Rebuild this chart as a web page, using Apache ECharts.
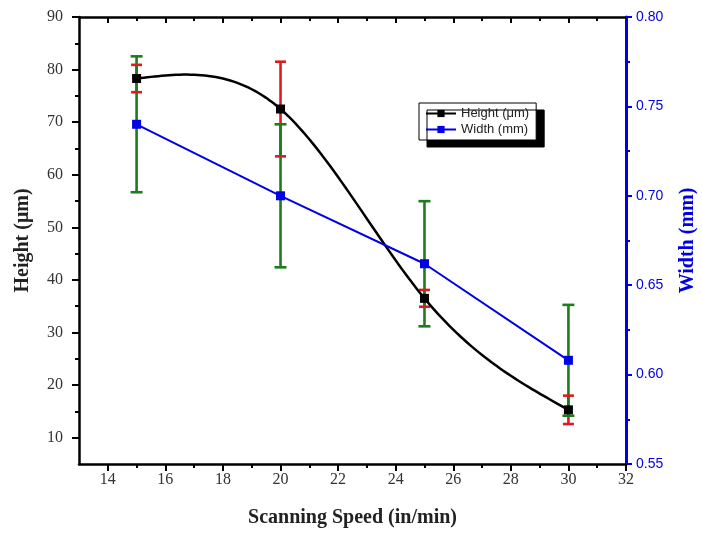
<!DOCTYPE html>
<html>
<head>
<meta charset="utf-8">
<script src="https://cdn.jsdelivr.net/npm/echarts@6/dist/echarts.min.js"></script>
<style>html,body{margin:0;padding:0;background:#fff;}#chart{width:702px;height:533px;}</style>
</head>
<body>
<div id="chart"></div>
<script>
const speeds = [15, 20, 25, 30];
const heightVals = [78.3, 72.5, 36.5, 15.3];
const heightErrs = [2.6, 9.0, 1.6, 2.7];
const widthVals = [0.740, 0.700, 0.662, 0.608];
const widthErrs = [0.038, 0.040, 0.035, 0.031];
const xMajorTicks = [14, 16, 18, 20, 22, 24, 26, 28, 30, 32];
const xMinorTicks = [15, 17, 19, 21, 23, 25, 27, 29, 31];
const yMajorTicks = [10, 20, 30, 40, 50, 60, 70, 80, 90];
const yMinorTicks = [15, 25, 35, 45, 55, 65, 75, 85];

const RED = '#e0191e', GREEN = '#1b7d1b', BLUE = '#0000e6';

function naturalSpline(xs, ys) {
  const n = xs.length, M = new Array(n).fill(0);
  if (n < 3) return M;
  const a = [], b = [], c = [], d = [];
  for (let i = 1; i < n - 1; i++) {
    const h0 = xs[i] - xs[i - 1], h1 = xs[i + 1] - xs[i];
    a.push(h0 / 6); b.push((h0 + h1) / 3); c.push(h1 / 6);
    d.push((ys[i + 1] - ys[i]) / h1 - (ys[i] - ys[i - 1]) / h0);
  }
  const m = b.length;
  for (let i = 1; i < m; i++) {
    const w = a[i] / b[i - 1];
    b[i] -= w * c[i - 1]; d[i] -= w * d[i - 1];
  }
  const sol = new Array(m);
  sol[m - 1] = d[m - 1] / b[m - 1];
  for (let i = m - 2; i >= 0; i--) sol[i] = (d[i] - c[i] * sol[i + 1]) / b[i];
  for (let i = 0; i < m; i++) M[i + 1] = sol[i];
  return M;
}

function errRender(color, capW, part) {
  return function (params, api) {
    const x = api.value(0), lo = api.value(1), hi = api.value(2);
    const pLo = api.coord([x, lo]), pHi = api.coord([x, hi]);
    const children = [];
    const st = { stroke: color, lineWidth: 2.6 };
    if (part !== 'caps') {
      children.push({ type: 'line', shape: { x1: pLo[0], y1: pLo[1], x2: pHi[0], y2: pHi[1] }, style: st });
    }
    if (part !== 'line') {
      children.push({ type: 'line', shape: { x1: pLo[0] - capW / 2, y1: pLo[1], x2: pLo[0] + capW / 2, y2: pLo[1] }, style: st });
      children.push({ type: 'line', shape: { x1: pHi[0] - capW / 2, y1: pHi[1], x2: pHi[0] + capW / 2, y2: pHi[1] }, style: st });
    }
    return { type: 'group', children: children };
  };
}

const heightErrData = speeds.map((x, i) => [x, heightVals[i] - heightErrs[i], heightVals[i] + heightErrs[i]]);
const widthErrData = speeds.map((x, i) => [x, widthVals[i] - widthErrs[i], widthVals[i] + widthErrs[i]]);

const serif = 'Liberation Serif';
const sans = 'Liberation Sans';

const chart = echarts.init(document.getElementById('chart'), null, { renderer: 'canvas' });
chart.setOption({
  animation: false,
  backgroundColor: '#fff',
  grid: { left: 79, right: 76, top: 17, bottom: 69, containLabel: false, outerBoundsMode: 'none' },
  legend: {
    left: 419, top: 103,
    orient: 'vertical',
    itemWidth: 30, itemHeight: 9, itemGap: 3,
    padding: [4, 7, 4, 6],
    backgroundColor: '#fff',
    borderColor: '#000', borderWidth: 1,
    shadowColor: '#000', shadowBlur: 0, shadowOffsetX: 8, shadowOffsetY: 7,
    textStyle: { fontFamily: sans, fontSize: 13, color: '#222' },
    data: [
      { name: 'Height (μm)', itemStyle: { color: '#000' }, lineStyle: { color: '#000', width: 2, opacity: 1 } },
      { name: 'Width (mm)', itemStyle: { color: BLUE }, lineStyle: { color: BLUE, width: 2 } }
    ]
  },
  xAxis: [
    {
      type: 'value', position: 'bottom', min: 13, max: 32,
      name: 'Scanning Speed (in/min)', nameLocation: 'middle', nameGap: 44,
      nameTextStyle: { fontFamily: serif, fontWeight: 'bold', fontSize: 20, color: '#222' },
      axisLine: { show: true, lineStyle: { color: '#000', width: 2.5 } },
      axisTick: { show: true, inside: false, length: 7, lineStyle: { width: 2, color: '#000' }, customValues: xMajorTicks },
      axisLabel: { fontFamily: serif, fontSize: 16, color: '#333', margin: 8, customValues: xMajorTicks },
      splitLine: { show: false }
    },
    {
      type: 'value', position: 'bottom', min: 13, max: 32,
      axisLine: { show: false },
      axisTick: { show: true, inside: false, length: 4, lineStyle: { width: 2, color: '#000' }, customValues: xMinorTicks },
      axisLabel: { show: false }, splitLine: { show: false }
    },
    {
      type: 'value', position: 'top', min: 13, max: 32,
      axisLine: { show: true, lineStyle: { color: '#000', width: 2.5 } },
      axisTick: { show: true, inside: true, length: 6, lineStyle: { width: 2, color: '#000' }, customValues: xMajorTicks.slice(0, -1) },
      axisLabel: { show: false }, splitLine: { show: false }
    },
    {
      type: 'value', position: 'top', min: 13, max: 32,
      axisLine: { show: false },
      axisTick: { show: true, inside: true, length: 4, lineStyle: { width: 2, color: '#000' }, customValues: xMinorTicks },
      axisLabel: { show: false }, splitLine: { show: false }
    }
  ],
  yAxis: [
    {
      type: 'value', position: 'left', min: 5, max: 90,
      name: 'Height (μm)', nameLocation: 'middle', nameGap: 46, nameRotate: 90,
      nameTextStyle: { fontFamily: serif, fontWeight: 'bold', fontSize: 20, color: '#222' },
      axisLine: { show: true, lineStyle: { color: '#000', width: 2.5 } },
      axisTick: { show: true, inside: false, length: 7, lineStyle: { width: 2, color: '#000' }, customValues: yMajorTicks },
      axisLabel: { fontFamily: serif, fontSize: 16, color: '#333', margin: 16, customValues: yMajorTicks },
      splitLine: { show: false }
    },
    {
      type: 'value', position: 'right', min: 0.55, max: 0.80, interval: 0.05,
      name: 'Width (mm)', nameLocation: 'middle', nameGap: 52, nameRotate: 90,
      nameTextStyle: { fontFamily: serif, fontWeight: 'bold', fontSize: 20, color: BLUE },
      axisLine: { show: true, lineStyle: { color: BLUE, width: 3 } },
      axisTick: { show: true, inside: false, length: 6, lineStyle: { width: 2, color: BLUE } },
      minorTick: { show: true, splitNumber: 2, length: 4, lineStyle: { width: 2, color: BLUE } },
      axisLabel: { fontFamily: sans, fontSize: 14, color: BLUE, margin: 10, formatter: v => v.toFixed(2) },
      splitLine: { show: false }
    },
    {
      type: 'value', position: 'left', min: 5, max: 90,
      axisLine: { show: false },
      axisTick: { show: true, inside: false, length: 4, lineStyle: { width: 2, color: '#000' }, customValues: yMinorTicks },
      axisLabel: { show: false }, splitLine: { show: false }
    }
  ],
  series: [
    {
      type: 'custom', name: 'heightErrLine', xAxisIndex: 0, yAxisIndex: 0, z: 2,
      renderItem: errRender(RED, 11, 'line'), data: heightErrData, encode: { x: 0, y: [1, 2] }, silent: true
    },
    {
      type: 'custom', name: 'widthErr', xAxisIndex: 0, yAxisIndex: 1, z: 3,
      renderItem: errRender(GREEN, 12, 'both'), data: widthErrData, encode: { x: 0, y: [1, 2] }, silent: true
    },
    {
      type: 'custom', name: 'heightErrCaps', xAxisIndex: 0, yAxisIndex: 0, z: 4,
      renderItem: errRender(RED, 11, 'caps'), data: heightErrData, encode: { x: 0, y: [1, 2] }, silent: true
    },
    {
      type: 'custom', name: 'heightCurve', xAxisIndex: 0, yAxisIndex: 0, z: 5, silent: true,
      data: speeds.map((x, i) => [x, heightVals[i]]), encode: { x: 0, y: 1 },
      renderItem: function (params, api) {
        if (params.dataIndex !== 0) return { type: 'group', children: [] };
        const M = naturalSpline(speeds, heightVals);
        const pts = [];
        for (let i = 0; i < speeds.length - 1; i++) {
          const x0 = speeds[i], x1 = speeds[i + 1], h = x1 - x0;
          const steps = 40;
          for (let s = 0; s <= steps; s++) {
            if (i > 0 && s === 0) continue;
            const x = x0 + h * s / steps;
            const A = (x1 - x) / h, B = (x - x0) / h;
            const y = A * heightVals[i] + B * heightVals[i + 1] +
              ((A * A * A - A) * M[i] + (B * B * B - B) * M[i + 1]) * h * h / 6;
            pts.push(api.coord([x, y]));
          }
        }
        return { type: 'polyline', shape: { points: pts }, style: { stroke: '#000', lineWidth: 2.5, fill: null } };
      }
    },
    {
      type: 'line', name: 'Width (mm)', xAxisIndex: 0, yAxisIndex: 1, z: 6,
      data: speeds.map((x, i) => [x, widthVals[i]]),
      symbol: 'rect', symbolSize: 9,
      itemStyle: { color: BLUE },
      lineStyle: { color: BLUE, width: 2 }
    },
    {
      type: 'line', name: 'Height (μm)', xAxisIndex: 0, yAxisIndex: 0, z: 7,
      data: speeds.map((x, i) => [x, heightVals[i]]),
      symbol: 'rect', symbolSize: 9,
      itemStyle: { color: '#000' },
      lineStyle: { color: '#000', width: 0, opacity: 0 }
    }
  ]
});
</script>
</body>
</html>
